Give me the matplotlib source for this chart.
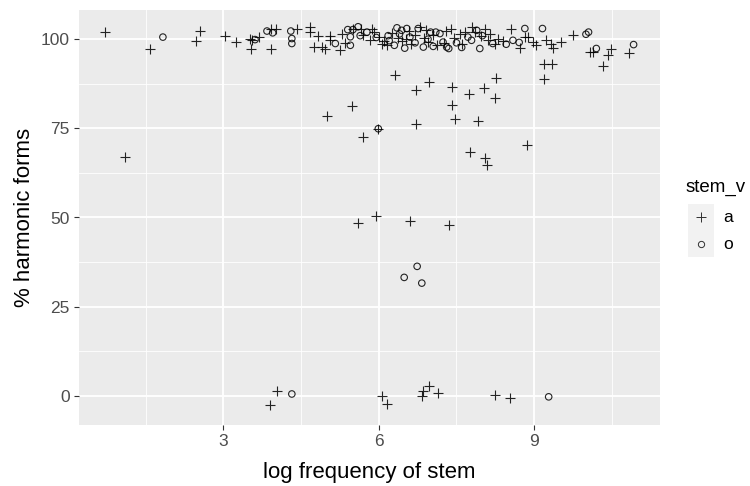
import matplotlib
matplotlib.use("Agg")
import matplotlib.pyplot as plt
from matplotlib.ticker import MultipleLocator
from matplotlib.lines import Line2D
from matplotlib.patches import Rectangle

plt.rcParams['font.family'] = ['Liberation Sans', 'DejaVu Sans']

# stem_v = "a" (plus markers)
a_x = [0.71, 1.59, 2.47, 2.55, 3.02, 3.24, 3.52, 3.53, 3.55, 3.68, 3.92, 4.02, 3.92, 4.42,
       4.67, 4.67, 4.83, 4.74, 4.90, 4.96, 5.06, 5.06, 5.25, 5.28, 5.50, 5.65, 5.86, 5.90,
       5.82, 6.06, 6.00, 6.15, 6.10, 6.38, 6.45, 6.52, 6.62, 6.70, 6.80, 6.88, 6.95, 7.05,
       7.12, 7.25, 7.40, 7.45, 7.56, 7.66, 7.60, 7.79, 7.98, 8.05, 8.10, 8.15, 8.25, 8.30,
       8.56, 8.82, 8.72, 8.88, 8.98, 9.04, 9.23, 9.33, 9.36, 9.52, 9.75, 10.07, 10.13, 10.42,
       10.49, 10.84, 9.19, 9.34, 10.33, 6.25, 6.58, 6.92, 7.30, 7.85, 8.40, 5.35, 5.70,
       1.09, 5.00, 5.49, 5.69, 5.99, 6.31, 6.72, 6.97, 7.42, 7.74, 8.04, 8.27, 8.25, 7.42,
       7.47, 7.92, 6.72, 7.76, 8.05, 8.08, 8.87, 9.19, 5.59, 5.95, 6.60, 7.36,
       3.89, 4.04, 6.06, 6.15, 6.83, 6.86, 6.97, 7.15, 8.24, 8.54]
a_y = [102.0, 97.4, 99.5, 102.3, 100.9, 99.1, 100.2, 97.4, 99.7, 100.7, 103.0, 103.0, 97.4, 103.0,
       103.3, 102.0, 101.0, 97.8, 97.8, 97.4, 101.0, 99.7, 96.9, 101.6, 103.0, 103.0, 103.0, 102.0,
       99.7, 98.8, 100.5, 98.5, 99.5, 100.4, 99.5, 100.0, 98.8, 101.2, 103.4, 100.3, 99.2, 101.3,
       98.5, 99.0, 103.0, 100.4, 101.6, 102.0, 98.8, 103.5, 100.8, 103.0, 99.8, 101.5, 98.8, 100.2,
       103.0, 100.6, 97.6, 100.6, 99.1, 98.4, 99.7, 98.8, 97.6, 99.2, 101.1, 96.4, 96.4, 95.5,
       97.4, 96.0, 93.0, 93.0, 92.5, 101.8, 102.2, 102.6, 102.4, 101.9, 99.4, 99.0, 101.2,
       66.9, 78.4, 81.3, 72.6, 74.9, 89.9, 85.7, 88.0, 86.6, 84.6, 86.4, 89.0, 83.6, 81.5,
       77.5, 77.2, 76.1, 68.3, 66.8, 64.6, 70.2, 88.8, 48.4, 50.3, 48.9, 47.9,
       -2.6, 1.4, 0.0, -2.3, -0.2, 1.4, 2.8, 0.8, 0.3, -0.5]

# stem_v = "o" (open circles)
o_x = [1.83, 3.61, 3.84, 3.95, 4.30, 4.32, 4.32, 5.16, 5.40, 5.50, 5.45, 5.45, 5.60, 5.64,
       5.77, 5.95, 6.18, 6.35, 6.30, 6.44, 6.54, 6.60, 6.86, 6.76, 7.00, 7.10, 7.24, 7.18,
       7.31, 7.35, 7.72, 7.79, 7.89, 7.95, 8.20, 7.50, 8.82, 9.16, 8.59, 8.71, 8.46, 10.00,
       10.05, 10.20, 10.92, 6.50, 6.95, 7.60, 6.70, 6.20, 7.05, 8.00, 6.40,
       5.99, 6.49, 6.74, 6.83, 4.32, 9.28]
o_y = [100.6, 99.9, 102.3, 101.8, 102.3, 100.2, 98.8, 98.8, 102.7, 102.7, 100.7, 98.3, 103.5, 101.0,
       102.0, 100.5, 101.0, 103.2, 98.3, 102.5, 103.0, 100.6, 97.8, 103.0, 102.0, 102.0, 99.2, 101.6,
       97.8, 97.4, 100.6, 99.7, 102.5, 97.4, 98.8, 99.0, 103.0, 103.0, 99.7, 99.1, 98.6, 101.4,
       102.0, 97.4, 98.5, 97.5, 100.0, 97.7, 99.0, 99.6, 98.0, 101.0, 101.5,
       74.9, 33.2, 36.3, 31.6, 0.5, -0.3]

x_ticks = [3, 6, 9]
y_ticks = [0, 25, 50, 75, 100]
legend_title = 'stem_v'
legend_labels = ['a', 'o']

W, H = 750, 486
fig = plt.figure(figsize=(7.5, 4.86), dpi=100)
ax = fig.add_axes([79 / W, 1 - 425 / H, (660 - 79) / W, (425 - 10) / H])
ax.set_facecolor('#EBEBEB')

ax.scatter(a_x, a_y, marker='+', s=55, c='black', linewidths=0.8, alpha=0.85, zorder=3)
ax.scatter(o_x, o_y, marker='o', s=22, facecolors='none', edgecolors='black',
           linewidths=0.8, alpha=0.85, zorder=3)

ax.set_xlim(0.21, 11.43)
ax.set_ylim(-8.2, 108.2)
ax.set_xticks(x_ticks)
ax.set_yticks(y_ticks)
ax.xaxis.set_minor_locator(MultipleLocator(1.5))
ax.yaxis.set_minor_locator(MultipleLocator(12.5))
ax.grid(which='major', color='white', linewidth=1.3, zorder=0)
ax.grid(which='minor', color='white', linewidth=0.6, zorder=0)
ax.set_axisbelow(True)
for sp in ax.spines.values():
    sp.set_visible(False)
ax.tick_params(which='major', length=3.5, width=0.8, color='#333333',
               labelsize=12.5, labelcolor='#4D4D4D', pad=3)
ax.tick_params(which='minor', length=0)

fig.text(369.5 / W, 1 - 472 / H, 'log frequency of stem', fontsize=16,
         ha='center', va='center')
fig.text(25 / W, 1 - 217.5 / H, '% harmonic forms', fontsize=16,
         ha='center', va='center', rotation=90)

# legend drawn by hand
fig.text(686 / W, 1 - 187 / H, legend_title, fontsize=13.5, ha='left', va='center')
key_centers = [217, 244]
for i, (lab, cy) in enumerate(zip(legend_labels, key_centers)):
    fig.add_artist(Rectangle((688 / W, 1 - (cy + 13.5) / H), 26 / W, 27 / H,
                             transform=fig.transFigure, facecolor='#F2F2F2',
                             edgecolor='none'))
    if i == 0:
        m = Line2D([701 / W], [1 - cy / H], transform=fig.transFigure, marker='+',
                   linestyle='none', color='black', markersize=7, markeredgewidth=0.7,
                   alpha=0.8)
    else:
        m = Line2D([701 / W], [1 - cy / H], transform=fig.transFigure, marker='o',
                   linestyle='none', markerfacecolor='none', markeredgecolor='black',
                   markersize=4.5, markeredgewidth=0.7, alpha=0.8)
    fig.add_artist(m)
    fig.text(723 / W, 1 - cy / H, lab, fontsize=12.5, ha='left', va='center')

fig.savefig('out.png', dpi=100)
